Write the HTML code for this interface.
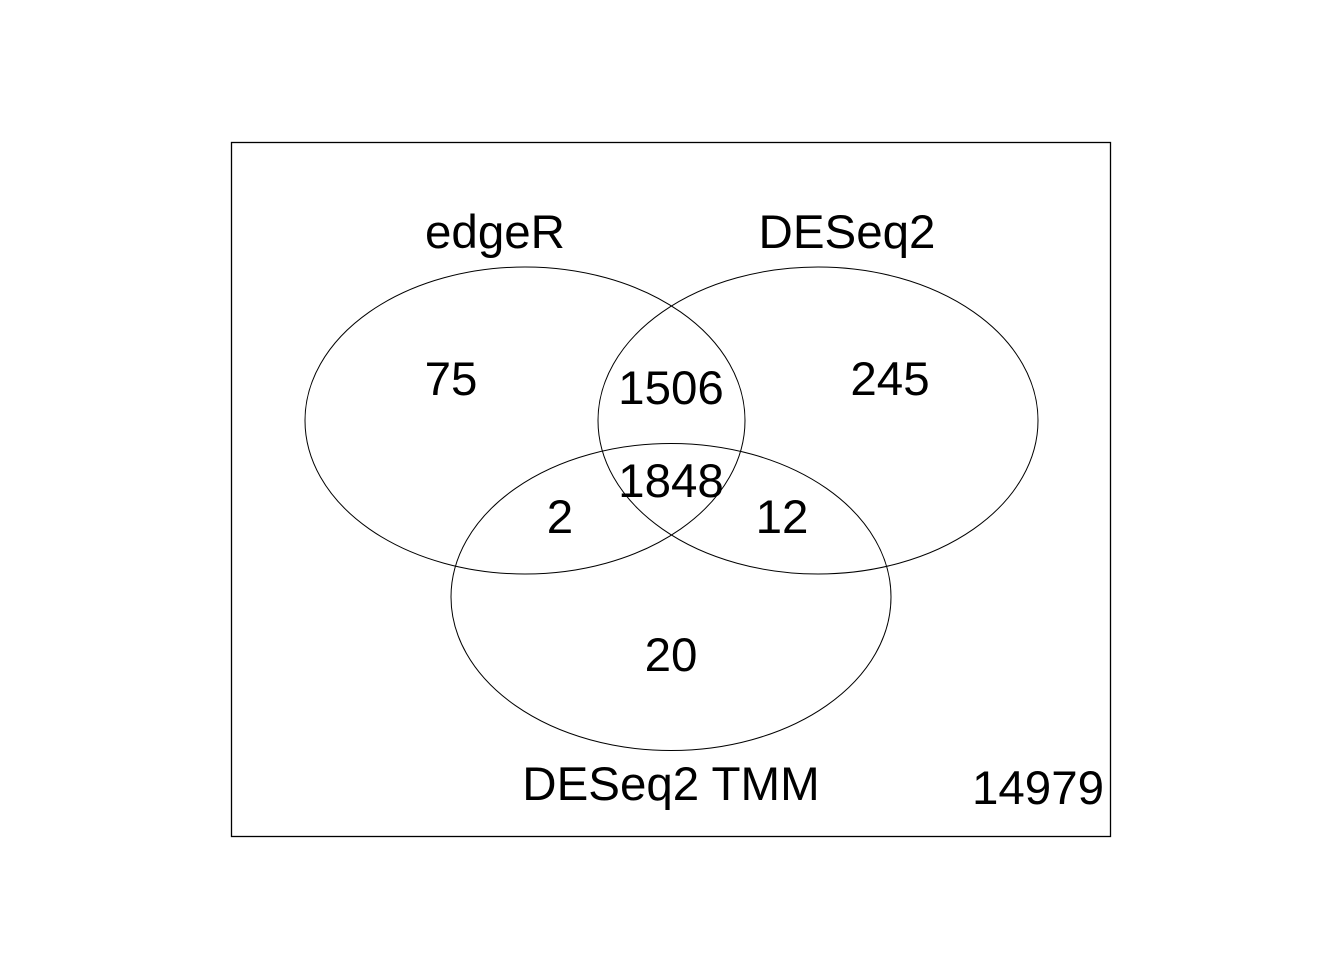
<!DOCTYPE html>
<html><head><meta charset="utf-8"><style>html,body{margin:0;padding:0;background:#fff}</style></head>
<body>
<svg width="1344" height="960" xmlns="http://www.w3.org/2000/svg" style="display:block">
<rect x="0" y="0" width="1344" height="960" fill="#fff"/>
<rect x="231.5" y="142.5" width="879" height="694" fill="none" stroke="#000" stroke-width="1.3"/>
<g fill="none" stroke="#000" stroke-width="1">
<ellipse cx="525" cy="420.5" rx="220" ry="153.5"/>
<ellipse cx="818" cy="420.5" rx="220" ry="153.5"/>
<ellipse cx="671" cy="597" rx="220" ry="153.5"/>
</g>
<g font-family="Liberation Sans, Arial, sans-serif" font-size="47.5" text-anchor="middle" fill="#000">
<text x="495" y="248">edgeR</text>
<text x="847" y="248">DESeq2</text>
<text x="451" y="395">75</text>
<text x="671" y="404">1506</text>
<text x="890" y="395">245</text>
<text x="671" y="497">1848</text>
<text x="560" y="533">2</text>
<text x="782" y="533">12</text>
<text x="671" y="671">20</text>
<text x="671" y="800">DESeq2 TMM</text>
<text x="1038" y="804">14979</text>
</g>
</svg>
</body></html>
